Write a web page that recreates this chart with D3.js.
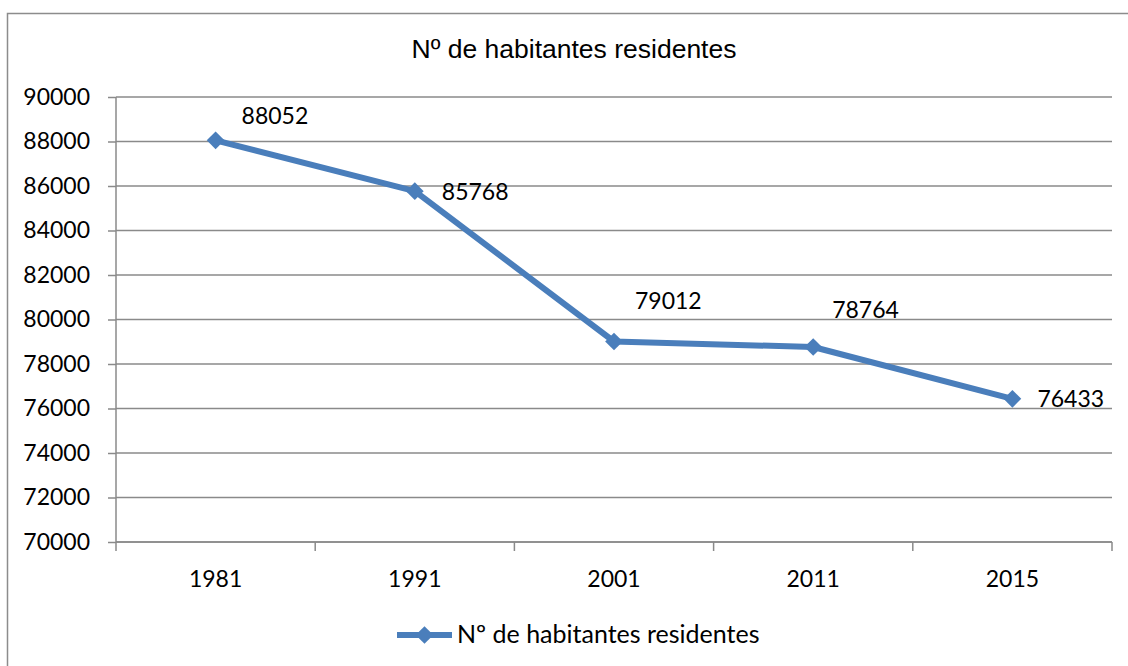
<!DOCTYPE html>
<html>
<head>
<meta charset="utf-8">
<script src="https://cdn.jsdelivr.net/npm/d3@7"></script>
<style>
  body { margin: 0; background: #fff; }
</style>
</head>
<body>
<div id="chart"></div>
<script>
const years = ['1981', '1991', '2001', '2011', '2015'];
const habitantes = [88052, 85768, 79012, 78764, 76433];
const yTicks = [70000, 72000, 74000, 76000, 78000, 80000, 82000, 84000, 86000, 88000, 90000];
const seriesName = 'Nº de habitantes residentes';
// label placement per point, as in the original (dx, dy from the marker)
const labelOffsets = [[26, -16], [27, 9], [21, -32], [19, -29], [25, 8]];

const width = 1128;
const height = 666;
const margin = { left: 116, right: 16, top: 97, bottom: 124 };
const blue = '#4a7ebb';
const grid = '#8a8a8a';
const numFont = 'Lato, "Open Sans", sans-serif';

const svg = d3.select('#chart')
              .append('svg')
              .attr('width', width)
              .attr('height', height);

svg.append('rect')
   .attr('x', 7.5)
   .attr('y', 13.5)
   .attr('width', width + 20)
   .attr('height', height + 20)
   .attr('fill', 'none')
   .attr('stroke', '#8c8c8c')
   .attr('stroke-width', 1.5);

svg.append('text')
   .attr('x', 574)
   .attr('y', 58)
   .attr('text-anchor', 'middle')
   .style('font-family', '"Liberation Sans", Arial, sans-serif')
   .style('font-size', '26.5px')
   .attr('fill', '#000')
   .text(seriesName);

const xScale = d3.scaleBand()
                 .domain(years)
                 .range([margin.left, width - margin.right]);

const yScale = d3.scaleLinear()
                 .domain([70000, 90000])
                 .range([height - margin.bottom, margin.top]);

// gridlines
svg.append('g')
   .selectAll('line')
   .data(yTicks)
   .join('line')
   .attr('x1', margin.left)
   .attr('x2', width - margin.right)
   .attr('y1', d => yScale(d))
   .attr('y2', d => yScale(d))
   .attr('stroke', grid)
   .attr('stroke-width', 1.5);

const yAxis = d3.axisLeft(yScale)
                .tickValues(yTicks)
                .tickFormat(d3.format('d'))
                .tickSize(8)
                .tickPadding(18);

const gy = svg.append('g')
              .attr('transform', 'translate(' + margin.left + ', 0)')
              .call(yAxis);

const xAxis = d3.axisBottom(xScale)
                .tickSize(0)
                .tickPadding(29);

const gx = svg.append('g')
              .attr('transform', 'translate(0, ' + (height - margin.bottom) + ')')
              .call(xAxis);

// category boundary ticks
gx.selectAll('.bound')
  .data(d3.range(years.length + 1))
  .join('line')
  .attr('class', 'bound')
  .attr('x1', i => margin.left + i * xScale.step())
  .attr('x2', i => margin.left + i * xScale.step())
  .attr('y1', 0)
  .attr('y2', 9)
  .attr('stroke', grid)
  .attr('stroke-width', 1.5);

[gx, gy].forEach(g => {
  g.selectAll('.domain').remove();
  g.selectAll('.tick line').attr('stroke', grid).attr('stroke-width', 1.5);
  g.selectAll('text')
   .style('font-family', numFont)
   .style('font-size', '23px')
   .attr('fill', '#000');
});

svg.append('line')
   .attr('x1', margin.left).attr('x2', margin.left)
   .attr('y1', margin.top).attr('y2', height - margin.bottom)
   .attr('stroke', grid).attr('stroke-width', 1.5);
svg.append('line')
   .attr('x1', margin.left).attr('x2', width - margin.right)
   .attr('y1', height - margin.bottom).attr('y2', height - margin.bottom)
   .attr('stroke', grid).attr('stroke-width', 1.5);

const cx = i => xScale(years[i]) + xScale.bandwidth() / 2;

const line = d3.line()
               .x((d, i) => cx(i))
               .y(d => yScale(d));

svg.append('path')
   .datum(habitantes)
   .attr('d', line)
   .attr('fill', 'none')
   .attr('stroke', blue)
   .attr('stroke-width', 6)
   .attr('stroke-linejoin', 'round');

const diamond = d3.symbol().type(d3.symbolDiamond2).size(200);

svg.append('g')
   .selectAll('path')
   .data(habitantes)
   .join('path')
   .attr('d', diamond)
   .attr('transform', (d, i) => 'translate(' + cx(i) + ',' + yScale(d) + ')')
   .attr('fill', blue);

svg.append('g')
   .selectAll('text')
   .data(habitantes)
   .join('text')
   .attr('x', (d, i) => cx(i) + labelOffsets[i][0])
   .attr('y', (d, i) => yScale(d) + labelOffsets[i][1])
   .style('font-family', numFont)
   .style('font-size', '23px')
   .attr('fill', '#000')
   .text(d => d);

// legend
const legend = svg.append('g').attr('transform', 'translate(397, 635)');
legend.append('line')
      .attr('x1', 0).attr('x2', 55)
      .attr('stroke', blue).attr('stroke-width', 6);
legend.append('path')
      .attr('d', diamond)
      .attr('transform', 'translate(27.5, 0)')
      .attr('fill', blue);
legend.append('text')
      .attr('x', 60)
      .attr('y', 8)
      .style('font-family', numFont)
      .style('font-size', '25px')
      .attr('fill', '#000')
      .text(seriesName);
</script>
</body>
</html>
